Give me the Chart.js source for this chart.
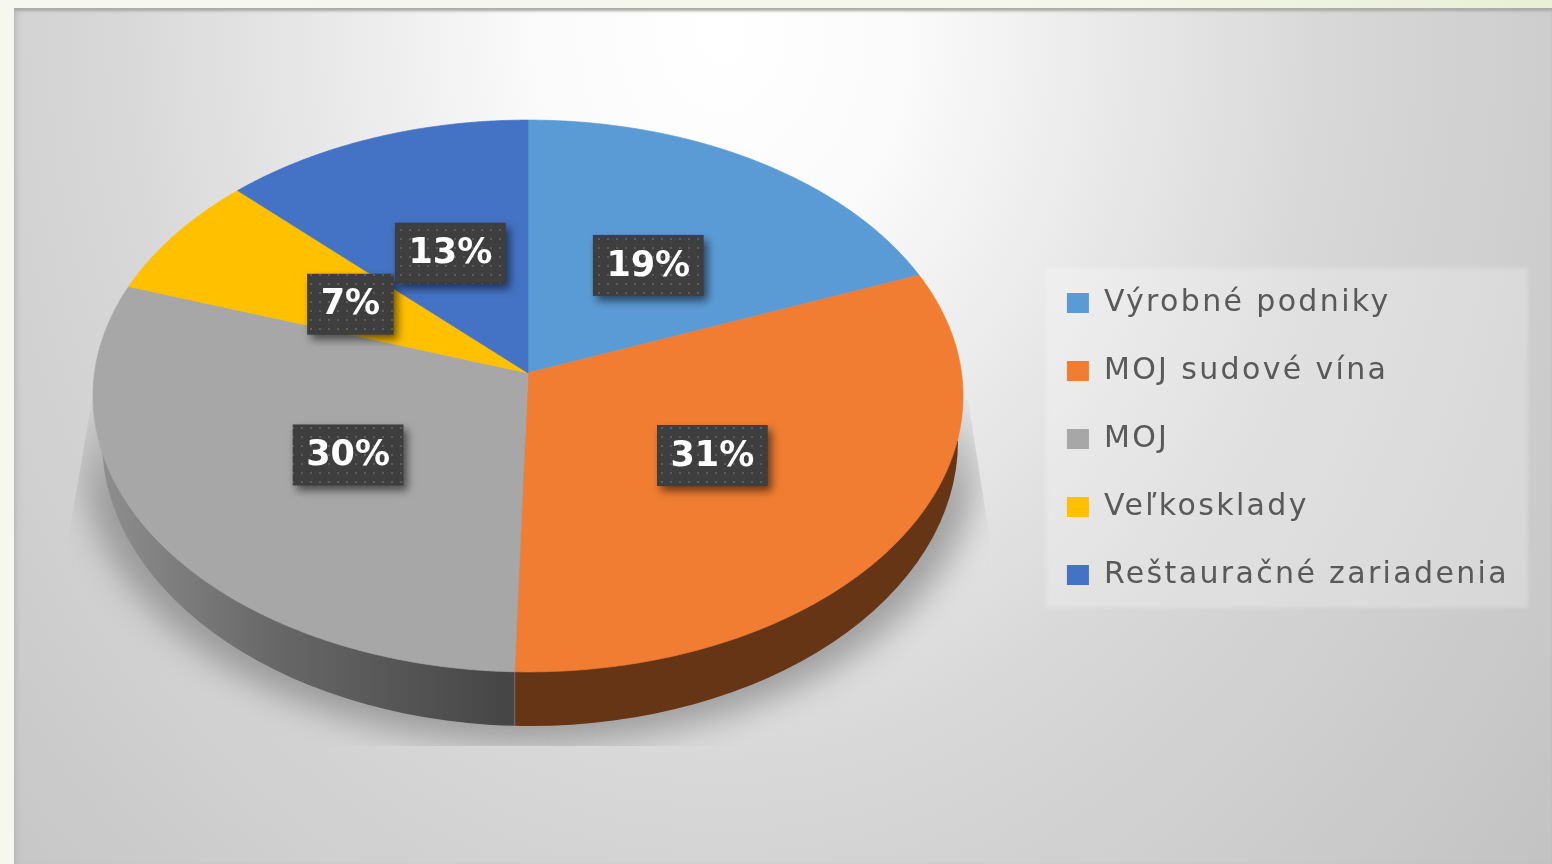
<!DOCTYPE html>
<html>
<head>
<meta charset="utf-8">
<title>Odbytové cesty</title>
<script src="https://cdn.jsdelivr.net/npm/chart.js@4"></script>
<style>
  html, body { margin: 0; padding: 0; overflow: hidden; }
  body { width: 1552px; height: 864px; background: linear-gradient(100deg, #f6f8f0 0%, #f5f7ec 60%, #e6ecd2 100%); }
  #panel {
    position: absolute; left: 14px; top: 8px; width: 1538px; height: 856px;
    background: radial-gradient(ellipse 820px 1000px at 46% 3%, #ffffff 0%, #fbfbfb 22%, #e9e9e9 48%, #d7d7d7 75%, #cecece 100%, #c3c3c3 130%);
    box-shadow: inset 0 4px 3px -1px #a9a9a6, inset 5px 0 6px -3px #b8b8b8;
  }
  #myChart { position: absolute; left: 0; top: 0; filter: blur(0.5px); }
</style>
</head>
<body>
<div id="panel"></div>
<canvas id="myChart" width="1552" height="864"></canvas>
<script>
var categories = ['Výrobné podniky', 'MOJ sudové vína', 'MOJ', 'Veľkosklady', 'Reštauračné zariadenia'];
var shares = [19, 31.45, 29.8, 7.2, 12.55];
var sliceColors = ['#5b9bd5', '#f07d31', '#a7a7a7', '#ffc000', '#4472c4'];

// perspective of the tilted disc: apex, half width, depth, foreshortening
var apexX = 528, apexY = 373, halfW = 433.5, halfH = 274, persp = 0.0833;

function project(angle, r) {
  var u = Math.cos(angle) * r;
  var v = -Math.sin(angle) * r;
  var w = 1 + persp * v;
  return { x: apexX + halfW * u / w, y: apexY - halfH * v / w, v: v };
}

// darker copy of a hex colour, for the side wall
function shade(hex, f) {
  var n = parseInt(hex.slice(1), 16);
  return 'rgb(' + Math.round((n >> 16) * f) + ',' + Math.round(((n >> 8) & 255) * f) + ',' + Math.round((n & 255) * f) + ')';
}

var dotPattern = null;
function getDots(ctx) {
  if (dotPattern) return dotPattern;
  var c = document.createElement('canvas');
  c.width = 9; c.height = 9;
  var p = c.getContext('2d');
  p.fillStyle = '#3e3e3e';
  p.fillRect(0, 0, 9, 9);
  p.fillStyle = '#5e5e5e';
  p.fillRect(4, 4, 2, 2);
  dotPattern = ctx.createPattern(c, 'repeat');
  return dotPattern;
}

var disc3d = {
  id: 'disc3d',
  beforeLayout: function(chart) {
    // legend text is spaced out in the original
    chart.ctx.letterSpacing = '2.35px';
  },
  beforeDraw: function(chart) {
    var ctx = chart.ctx;
    ctx.letterSpacing = '2.35px';
    // legend backing
    ctx.save();
    ctx.fillStyle = 'rgba(255,255,255,0.25)';
    ctx.filter = 'blur(2px)';
    ctx.fillRect(1046, 268, 482, 340);
    ctx.restore();
    // shadow under the disc, fades out upwards
    ctx.save();
    ctx.beginPath();
    ctx.moveTo(92, 400); ctx.lineTo(68, 540); ctx.lineTo(68, 746);
    ctx.lineTo(990, 746); ctx.lineTo(990, 540); ctx.lineTo(968, 400);
    ctx.closePath();
    ctx.clip();
    ctx.filter = 'blur(16px)';
    var fade = ctx.createLinearGradient(0, 385, 0, 500);
    fade.addColorStop(0, 'rgba(125,125,125,0)');
    fade.addColorStop(1, 'rgba(125,125,125,0.65)');
    ctx.fillStyle = fade;
    ctx.beginPath();
    ctx.ellipse(530, 455, 448, 288, 0, 0, Math.PI * 2);
    ctx.fill();
    ctx.restore();
  },
  beforeDatasetsDraw: function(chart) {
    var ctx = chart.ctx;
    var arcs = chart.getDatasetMeta(0).data;

    // side wall, only the part of each slice that faces the viewer
    arcs.forEach(function(arc) {
      var minX = Infinity, maxX = -Infinity;
      for (var a = arc.startAngle; a <= arc.endAngle; a += 0.005) {
        var p = project(a, 1);
        if (p.v < 0) {
          minX = Math.min(minX, p.x);
          maxX = Math.max(maxX, p.x);
        }
      }
      if (minX === Infinity) return;
      var col = arc.options.backgroundColor;
      var grad = ctx.createLinearGradient(102, 0, 958, 0);
      grad.addColorStop(0, shade(col, 0.85));
      grad.addColorStop(0.2, shade(col, 0.62));
      grad.addColorStop(0.47, shade(col, 0.42));
      grad.addColorStop(1, shade(col, 0.42));
      ctx.save();
      ctx.beginPath();
      ctx.rect(minX, 373, maxX - minX, 400);
      ctx.clip();
      ctx.fillStyle = grad;
      ctx.beginPath();
      ctx.ellipse(530, 441, 428, 285, 0, 0, Math.PI);
      ctx.fill();
      ctx.restore();
    });

    // top face, slice angles come from the chart's arc elements
    arcs.forEach(function(arc) {
      ctx.beginPath();
      ctx.moveTo(apexX, apexY);
      for (var a = arc.startAngle; a < arc.endAngle; a += 0.005) {
        var p = project(a, 1);
        ctx.lineTo(p.x, p.y);
      }
      var e = project(arc.endAngle, 1);
      ctx.lineTo(e.x, e.y);
      ctx.closePath();
      ctx.fillStyle = arc.options.backgroundColor;
      ctx.strokeStyle = arc.options.backgroundColor;
      ctx.lineWidth = 0.7;
      ctx.fill();
      ctx.stroke();
    });
    return false;
  },
  afterDraw: function(chart) {
    var ctx = chart.ctx;
    var arcs = chart.getDatasetMeta(0).data;
    ctx.letterSpacing = '0px';
    arcs.forEach(function(arc, i) {
      var text = Math.round(shares[i]) + '%';
      var p = project((arc.startAngle + arc.endAngle) / 2, 0.5);
      var x = p.x + 2.5;
      var y = p.y + 2;
      ctx.save();
      ctx.font = 'bold 35px "DejaVu Sans"';
      var w = ctx.measureText(text).width + 27;
      var h = 61;
      ctx.shadowColor = 'rgba(0,0,0,0.55)';
      ctx.shadowBlur = 9;
      ctx.shadowOffsetX = 4;
      ctx.shadowOffsetY = 5;
      ctx.fillStyle = getDots(ctx);
      ctx.fillRect(x - w / 2, y - h / 2, w, h);
      ctx.shadowColor = 'transparent';
      ctx.fillStyle = '#ffffff';
      ctx.textAlign = 'center';
      ctx.textBaseline = 'middle';
      ctx.fillText(text, x, y + 1);
      ctx.restore();
    });
  }
};

var chart = new Chart(document.getElementById('myChart'), {
  type: 'pie',
  plugins: [disc3d],
  data: {
    labels: categories,
    datasets: [{
      data: shares,
      backgroundColor: sliceColors,
      borderWidth: 0
    }]
  },
  options: {
    responsive: false,
    animation: false,
    layout: { padding: { top: 14, right: 33 } },
    plugins: {
      tooltip: { enabled: false },
      legend: {
        position: 'right',
        align: 'center',
        labels: {
          color: '#595959',
          boxWidth: 22,
          boxHeight: 20,
          padding: 38,
          font: { family: '"DejaVu Sans"', size: 30 }
        }
      }
    }
  }
});
</script>
</body>
</html>
